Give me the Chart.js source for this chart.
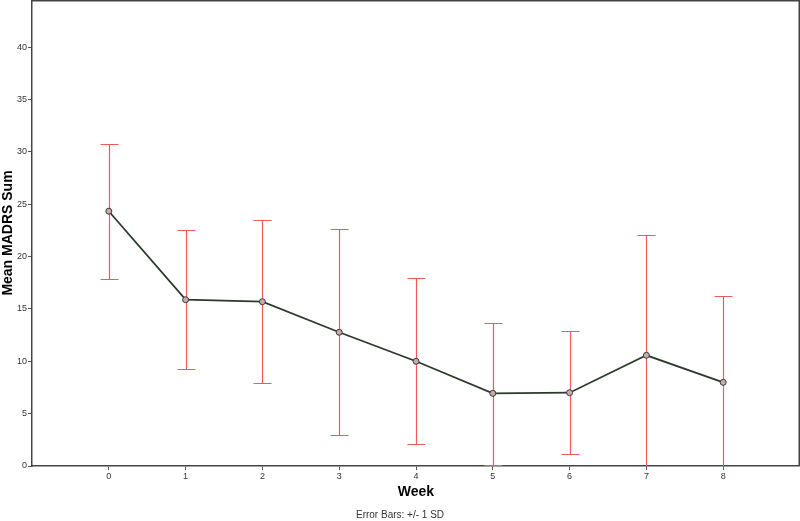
<!DOCTYPE html>
<html>
<head>
<meta charset="utf-8">
<script src="https://cdn.jsdelivr.net/npm/chart.js@4/dist/chart.umd.min.js"></script>
<style>
  html, body { margin: 0; padding: 0; background: #fff; }
  #wrap { width: 800px; height: 521px; }
</style>
</head>
<body>
<div id="wrap"><canvas id="madrs"></canvas></div>
<script>
//--------------------------------------------- data
const weeks = [0, 1, 2, 3, 4, 5, 6, 7, 8];
const meanSum = [24.33, 15.88, 15.69, 12.77, 10.0, 6.94, 7.0, 10.57, 7.99];
const upperSD = [30.75, 22.51, 23.52, 22.61, 17.98, 13.69, 12.87, 22.03, 16.24];
const lowerSD = [17.86, 9.26, 7.93, 2.93, 2.07, 0.1, 1.17, -0.89, -0.26];
const yTicks = [0, 5, 10, 15, 20, 25, 30, 35, 40];

Chart.defaults.font.family = '"Liberation Sans", Arial, sans-serif';
Chart.defaults.color = '#333';

//--------------------------------------------- error bars + frame
const errorBars = {
  id: 'errorBars',
  beforeDatasetsDraw(chart) {
    const ctx = chart.ctx, x = chart.scales.x, y = chart.scales.y, a = chart.chartArea;
    ctx.save();
    ctx.beginPath();
    ctx.rect(a.left, a.top, a.right - a.left, a.bottom - a.top);
    ctx.clip();
    ctx.strokeStyle = '#f05a5a';
    ctx.lineWidth = 1.2;
    weeks.forEach((w, i) => {
      const px = Math.round(x.getPixelForValue(w)) + 0.5;
      const top = Math.round(y.getPixelForValue(upperSD[i])) + 0.5;
      const bot = Math.round(y.getPixelForValue(lowerSD[i])) + 0.5;
      ctx.beginPath();
      ctx.moveTo(px, top); ctx.lineTo(px, bot);
      ctx.moveTo(px - 9, top); ctx.lineTo(px + 9, top);
      ctx.moveTo(px - 9, bot); ctx.lineTo(px + 9, bot);
      ctx.stroke();
    });
    ctx.restore();
  },
  afterDraw(chart) {
    const ctx = chart.ctx, a = chart.chartArea;
    ctx.save();
    ctx.strokeStyle = '#444';
    ctx.lineWidth = 1.5;
    ctx.beginPath();
    ctx.moveTo(a.left, a.top + 0.75);
    ctx.lineTo(a.right - 0.75, a.top + 0.75);
    ctx.lineTo(a.right - 0.75, a.bottom);
    ctx.stroke();
    ctx.restore();
  }
};

//--------------------------------------------- chart
const dataMadrs = {
  datasets: [{
    label: 'Mean MADRS Sum',
    data: weeks.map((w, i) => ({ x: w, y: meanSum[i] })),
    borderColor: '#2c3a2c',
    borderWidth: 1.8,
    pointRadius: 3,
    pointBorderWidth: 1,
    pointBorderColor: '#3a3a3a',
    pointBackgroundColor: '#c7aaaa',
    tension: 0
  }]
};

const configMadrs = {
  type: 'line',
  data: dataMadrs,
  plugins: [errorBars],
  options: {
    responsive: true,
    maintainAspectRatio: false,
    animation: false,
    layout: { autoPadding: false, padding: { top: 0, right: 0, left: 0, bottom: 0 } },
    plugins: {
      legend: { display: false },
      tooltip: { enabled: false },
      subtitle: {
        display: true,
        position: 'bottom',
        text: 'Error Bars: +/- 1 SD',
        color: '#333',
        font: { size: 10 },
        padding: { top: 8, bottom: 0 }
      }
    },
    scales: {
      x: {
        type: 'linear',
        min: -1,
        max: 9,
        afterBuildTicks: s => { s.ticks = weeks.map(v => ({ value: v })); },
        afterFit: s => { s.height = 35; s.paddingLeft = 0; s.paddingRight = 0; },
        grid: { drawOnChartArea: false, drawTicks: true, tickLength: 4, color: '#555' },
        border: { display: true, color: '#444', width: 1.5 },
        ticks: { font: { size: 9 }, color: '#333', padding: 1, maxRotation: 0 },
        title: { display: true, text: 'Week', font: { size: 14, weight: 'bold' }, color: '#000', padding: 0 }
      },
      y: {
        min: 0,
        max: 44.5,
        afterBuildTicks: s => { s.ticks = yTicks.map(v => ({ value: v })); },
        afterFit: s => { s.width = 32; s.paddingTop = 0; s.paddingBottom = 0; },
        grid: { drawOnChartArea: false, drawTicks: true, tickLength: 4, color: '#555' },
        border: { display: true, color: '#444', width: 1.5 },
        ticks: { font: { size: 9 }, color: '#333', padding: 1 },
        title: { display: true, text: 'Mean MADRS Sum', font: { size: 14, weight: 'bold' }, color: '#000', padding: 0 }
      }
    }
  }
};

var chartMadrs = new Chart(
  document.getElementById('madrs'),
  configMadrs
);
</script>
</body>
</html>
